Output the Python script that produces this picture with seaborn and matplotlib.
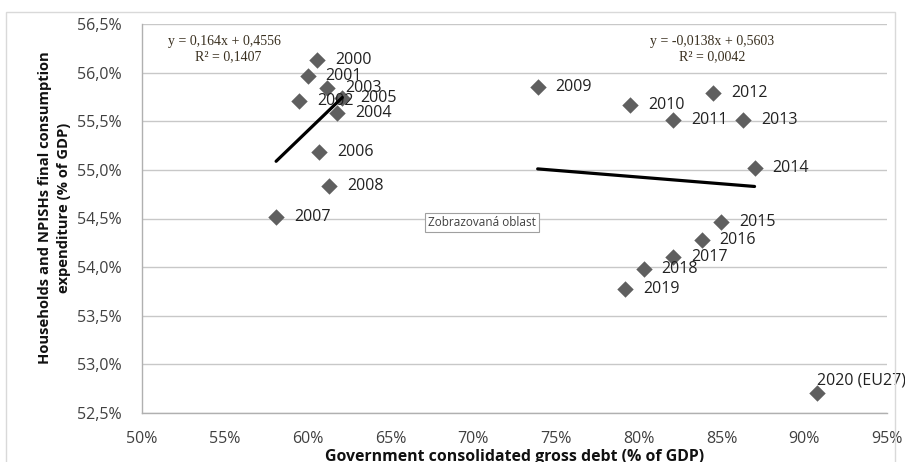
import numpy as np
import pandas as pd
import seaborn as sns
import matplotlib.pyplot as plt
from matplotlib.patches import Rectangle
from matplotlib.ticker import FuncFormatter

# data (shares of GDP)
years = ["2000", "2001", "2002", "2003", "2004", "2005", "2006", "2007", "2008",
         "2009", "2010", "2011", "2012", "2013", "2014", "2015", "2016", "2017",
         "2018", "2019", "2020 (EU27)"]
debt = [0.606, 0.600, 0.595, 0.612, 0.618, 0.621, 0.607, 0.581, 0.613,
        0.739, 0.795, 0.821, 0.845, 0.863, 0.870, 0.850, 0.838, 0.821,
        0.803, 0.792, 0.908]
consumption = [0.5613, 0.5597, 0.5571, 0.5584, 0.5558, 0.5574, 0.5518, 0.5452, 0.5483,
               0.5585, 0.5567, 0.5551, 0.5579, 0.5551, 0.5502, 0.5446, 0.5428, 0.5410,
               0.5398, 0.5378, 0.5271]

# trend lines as shown in the chart
trend1_years = ["2000", "2001", "2002", "2003", "2004", "2005", "2006", "2007", "2008"]
trend1_coef = (0.164, 0.4556)
trend2_years = ["2009", "2010", "2011", "2012", "2013", "2014"]
trend2_coef = (-0.0138, 0.5603)

df = pd.DataFrame({"year": years, "debt": debt, "cons": consumption})

sns.set_style("white")
plt.rcParams["font.family"] = ["Open Sans", "DejaVu Sans"]

fig = plt.figure(figsize=(9.05, 4.62), dpi=100)
ax = fig.add_axes([142 / 905, 1 - 413 / 462, 745 / 905, 389 / 462])

# outer chart frame
fig.patches.append(Rectangle((6 / 905, -0.1), 889 / 905, 1.1 - 12 / 462,
                             transform=fig.transFigure, fill=False,
                             edgecolor="#d9d9d9", linewidth=1.0))

sns.scatterplot(data=df, x="debt", y="cons", marker="D", s=70, color="#5f5f5f",
                edgecolor="#5f5f5f", linewidth=0, ax=ax, zorder=3)

for yrs, (a, b) in [(trend1_years, trend1_coef), (trend2_years, trend2_coef)]:
    sub = df[df["year"].isin(yrs)]
    xs = np.array([sub["debt"].min(), sub["debt"].max()])
    line = pd.DataFrame({"x": xs, "y": a * xs + b})
    sns.lineplot(data=line, x="x", y="y", color="black", linewidth=2.3, ax=ax, zorder=4)

for _, r in df.iterrows():
    if r["year"].startswith("2020"):
        ax.annotate(r["year"], (r["debt"], r["cons"]), xytext=(0, 8.5),
                    textcoords="offset points", fontsize=11.5, color="#222222",
                    va="center", ha="left", annotation_clip=False)
    else:
        ax.annotate(r["year"], (r["debt"], r["cons"]), xytext=(13, 0),
                    textcoords="offset points", fontsize=11.5, color="#222222",
                    va="center", ha="left")

eq_font = dict(family=["Liberation Serif", "DejaVu Serif"], fontsize=10, color="#3a3020")
ax.text(0.5157, 0.56325, "y = 0,164x + 0,4556", ha="left", va="center", **eq_font)
ax.text(0.5519, 0.5616, "R² = 0,1407", ha="center", va="center", **eq_font)
ax.text(0.8442, 0.56325, "y = -0,0138x + 0,5603", ha="center", va="center", **eq_font)
ax.text(0.8442, 0.5616, "R² = 0,0042", ha="center", va="center", **eq_font)

ax.text(0.7053, 0.54455, "Zobrazovaná oblast", ha="center", va="center", fontsize=8.5,
        color="#404040", zorder=5,
        bbox=dict(boxstyle="square,pad=0.25", facecolor="white", edgecolor="#a0a0a0",
                  linewidth=0.8))

ax.set_xlim(0.50, 0.95)
ax.set_ylim(0.525, 0.565)
ax.set_xticks(np.arange(0.50, 0.951, 0.05))
ax.set_yticks(np.arange(0.525, 0.5651, 0.005))
ax.xaxis.set_major_formatter(FuncFormatter(lambda v, p: f"{v * 100:.0f}%"))
ax.yaxis.set_major_formatter(FuncFormatter(lambda v, p: f"{v * 100:.1f}%".replace(".", ",")))
ax.tick_params(axis="both", length=0, labelsize=11.5, colors="#404040")
ax.tick_params(axis="x", pad=13)
ax.tick_params(axis="y", pad=15)
ax.grid(axis="y", color="#c8c8c8", linewidth=1)
ax.set_axisbelow(True)
for s in ["top", "right"]:
    ax.spines[s].set_visible(False)
for s in ["left", "bottom"]:
    ax.spines[s].set_color("#b0b0b0")
    ax.spines[s].set_linewidth(1)

ax.set_xlabel("Government consolidated gross debt (% of GDP)", fontsize=11.4,
              fontweight="bold", color="#111111", va="top")
ax.xaxis.set_label_coords(0.5, -0.092)
ax.set_ylabel("Households and NPISHs final consumption\nexpenditure (% of GDP)",
              fontsize=10.6, fontweight="bold", color="#111111", linespacing=1.45)
ax.yaxis.set_label_coords(-0.0953, 0.527)

fig.savefig("out.png", dpi=100)
